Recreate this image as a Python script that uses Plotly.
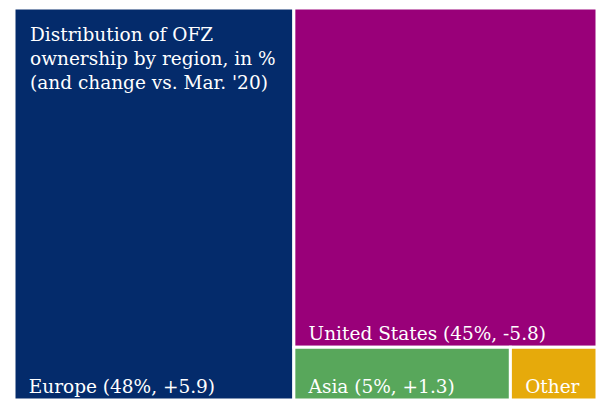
import plotly.graph_objects as go

regions = ["Europe", "United States", "Asia", "Other"]
shares = [48, 45, 5, 2]
changes = ["+5.9", "-5.8", "+1.3", ""]
colors = ["#042b6b", "#990079", "#58a75b", "#e6aa0b"]
title_text = "Distribution of OFZ<br>ownership by region, in %<br>(and change vs. Mar. '20)"

FONT = "DejaVu Serif"

labels_txt = [f"{r} ({s}%, {c})" if c else r for r, s, c in zip(regions, shares, changes)]

fig = go.Figure(go.Treemap(
    labels=regions,
    parents=[""] * len(regions),
    values=shares,
    text=["  " + t for t in labels_txt],
    textinfo="text",
    textposition="bottom left",
    textfont=dict(family=FONT, size=18.5, color="white"),
    marker=dict(colors=colors, line=dict(color="white", width=3),
                pad=dict(t=0, l=0, r=0, b=0)),
    pathbar=dict(visible=False),
    sort=True,
    tiling=dict(packing="squarify", pad=0),
    hoverinfo="none",
))

fig.update_layout(
    width=597, height=400,
    margin=dict(l=14, r=0, t=8, b=0),
    paper_bgcolor="white",
    uniformtext=dict(minsize=18.5, mode="show"),
    annotations=[dict(
        text=title_text, x=0, y=1, xref="paper", yref="paper",
        xanchor="left", yanchor="top", align="left", showarrow=False,
        xshift=14, yshift=-14,
        font=dict(family=FONT, size=18.5, color="white"),
    )],
)

fig.write_html(
    "out.html",
    config={"displayModeBar": False},
    post_script="document.body.style.margin='0';document.body.style.overflow='hidden';",
)
